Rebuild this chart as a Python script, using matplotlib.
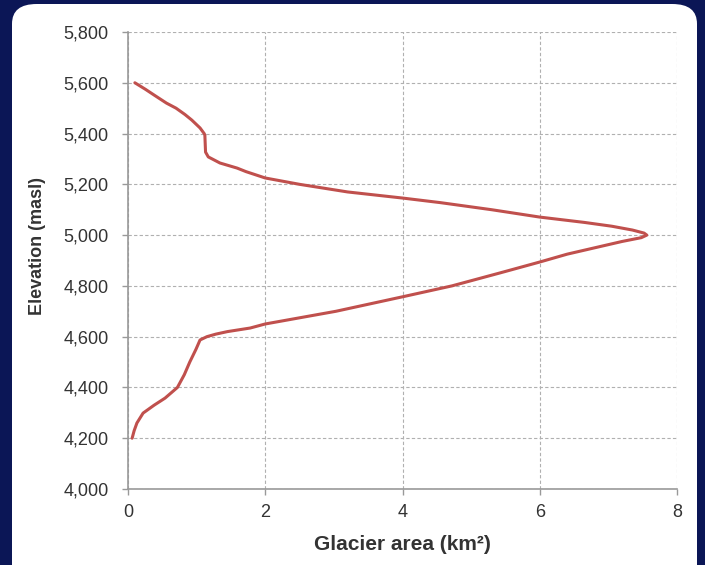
import matplotlib
matplotlib.use("Agg")
import matplotlib.pyplot as plt
from matplotlib.patches import FancyBboxPatch
from matplotlib.ticker import FuncFormatter

# glacier area (km2) by elevation (masl)
elevation = [5600, 5575, 5550, 5520, 5500, 5475, 5453, 5422, 5400, 5394, 5360, 5327,
             5308, 5284, 5264, 5250, 5225, 5200, 5170, 5146, 5128, 5100,
             5071, 5050, 5035, 5020, 5008, 5000,
             4990, 4975, 4950, 4925, 4894, 4851, 4800, 4757, 4700, 4650,
             4634, 4620, 4610, 4600, 4587, 4550, 4500, 4450, 4400, 4358,
             4330, 4299, 4260, 4230, 4200]
area = [0.10, 0.25, 0.39, 0.56, 0.70, 0.83, 0.93, 1.05, 1.11, 1.12, 1.125, 1.13,
        1.17, 1.34, 1.59, 1.72, 2.00, 2.50, 3.20, 4.00, 4.55, 5.30,
        6.00, 6.65, 7.05, 7.35, 7.52, 7.56,
        7.48, 7.20, 6.80, 6.40, 6.00, 5.42, 4.72, 4.00, 3.03, 2.00,
        1.78, 1.45, 1.28, 1.15, 1.05, 0.99, 0.90, 0.82, 0.72, 0.54,
        0.38, 0.22, 0.13, 0.09, 0.06]

x_ticks = [0, 2, 4, 6, 8]
y_ticks = [4000, 4200, 4400, 4600, 4800, 5000, 5200, 5400, 5600, 5800]

plt.rcParams['font.family'] = ['Liberation Sans', 'DejaVu Sans']

fig = plt.figure(figsize=(7.05, 5.65), dpi=100)
fig.patch.set_facecolor("#0b1656")

# white rounded panel behind the chart
panel = FancyBboxPatch((12 / 705, -0.05), 685 / 705, 1.05 - 4 / 565,
                       boxstyle="round,pad=0,rounding_size=0.035",
                       transform=fig.transFigure, facecolor="white",
                       edgecolor="none", zorder=-10)
fig.patches.append(panel)

ax = fig.add_axes([128 / 705, 1 - 489 / 565, 549 / 705, 457 / 565])
ax.set_facecolor("white")

ax.plot(area, elevation, color="#c0504d", linewidth=2.2,
        solid_capstyle="round", solid_joinstyle="round", zorder=3)

ax.set_xlim(0, 8)
ax.set_ylim(4000, 5800)
ax.set_xticks(x_ticks)
ax.set_yticks(y_ticks)
ax.yaxis.set_major_formatter(FuncFormatter(lambda v, p: f"{int(v):,}"))

ax.grid(True, color="#b0b0b0", linestyle=(0, (3, 2)), linewidth=0.8)
ax.set_axisbelow(True)
for s in ["top", "right"]:
    ax.spines[s].set_visible(False)
for s in ["left", "bottom"]:
    ax.spines[s].set_color("#999999")
    ax.spines[s].set_linewidth(1.2)

ax.tick_params(axis="both", colors="#999999", labelcolor="#333333", labelsize=13,
               length=4, width=1.0)
ax.tick_params(axis="y", pad=10)
ax.tick_params(axis="x", pad=7)

ax.set_xlabel("Glacier area (km²)", fontsize=15, fontweight="bold", color="#333333")
ax.set_ylabel("Elevation (masl)", fontsize=13, fontweight="bold", color="#333333")
ax.xaxis.set_label_coords(0.5, -0.1)
ax.yaxis.set_label_coords(-0.149, 0.532)

fig.savefig("out.png", dpi=100, facecolor=fig.get_facecolor())
